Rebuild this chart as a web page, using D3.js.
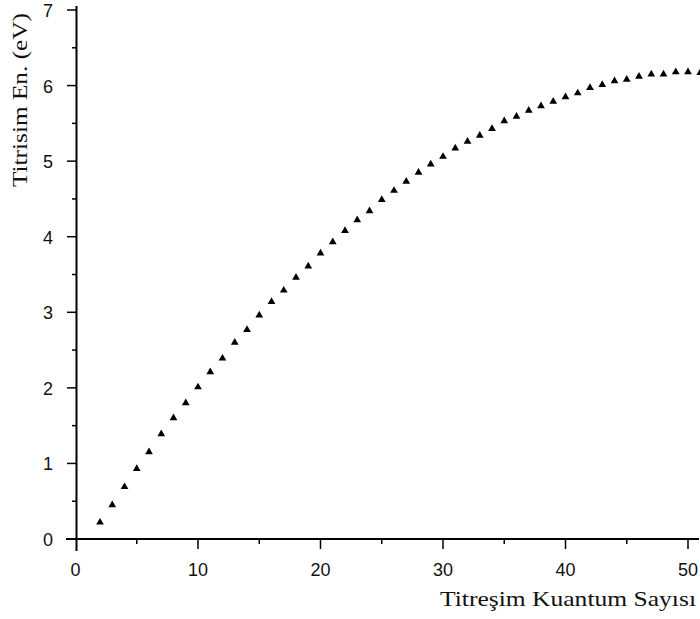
<!DOCTYPE html>
<html>
<head>
<meta charset="utf-8">
<script src="https://cdn.jsdelivr.net/npm/d3@7"></script>
<style>
  body { margin: 0; background: #fff; }
  svg { display: block; }
  .tick-label { font-family: "Liberation Sans", Arial, sans-serif; font-size: 18px; fill: #111; }
  .axis-title { font-family: "Liberation Serif", "Times New Roman", serif; font-size: 21px; fill: #111; }
</style>
</head>
<body>
<div id="chart"></div>
<script>
// quantum numbers and vibrational energies (eV)
var quantum_numbers = [2, 3, 4, 5, 6, 7, 8, 9, 10, 11, 12, 13, 14, 15, 16, 17, 18, 19, 20, 21,
                       22, 23, 24, 25, 26, 27, 28, 29, 30, 31, 32, 33, 34, 35, 36, 37, 38, 39, 40, 41,
                       42, 43, 44, 45, 46, 47, 48, 49, 50, 51];
var energies = [0.22, 0.45, 0.69, 0.93, 1.15, 1.39, 1.60, 1.80, 2.01, 2.21,
                2.39, 2.60, 2.77, 2.96, 3.14, 3.29, 3.46, 3.61, 3.78, 3.93,
                4.08, 4.22, 4.34, 4.49, 4.61, 4.73, 4.85, 4.96, 5.06, 5.17,
                5.26, 5.34, 5.43, 5.53, 5.59, 5.67, 5.73, 5.79, 5.85, 5.90,
                5.97, 6.01, 6.06, 6.08, 6.12, 6.15, 6.15, 6.18, 6.18, 6.17];
var x_ticks = [0, 10, 20, 30, 40, 50];
var y_ticks = [0, 1, 2, 3, 4, 5, 6, 7];
var x_title = "Titreşim Kuantum Sayısı";
var y_title = "Titrisim En. (eV)";

var width = 700;
var height = 619;

var x = d3.scaleLinear().domain([0, 50]).range([75.5, 688]);
var y = d3.scaleLinear().domain([0, 7]).range([539, 10]);

var svg = d3.select("#chart").append("svg")
    .attr("width", width)
    .attr("height", height);

// axis lines
svg.append("line")
    .attr("x1", 66).attr("x2", 699)
    .attr("y1", y(0)).attr("y2", y(0))
    .attr("stroke", "#000").attr("stroke-width", 2);
svg.append("line")
    .attr("x1", 76.5).attr("x2", 76.5)
    .attr("y1", 6).attr("y2", 551)
    .attr("stroke", "#000").attr("stroke-width", 2);

// x ticks (major every 10, minor every 5), pointing down
var x_minor = d3.range(5, 51, 10);
svg.append("g").selectAll("line").data(x_ticks.slice(1)).enter()
    .append("line")
    .attr("x1", function(d) { return x(d); }).attr("x2", function(d) { return x(d); })
    .attr("y1", y(0)).attr("y2", y(0) + 10)
    .attr("stroke", "#000").attr("stroke-width", 1.5);
svg.append("g").selectAll("line").data(x_minor).enter()
    .append("line")
    .attr("x1", function(d) { return x(d); }).attr("x2", function(d) { return x(d); })
    .attr("y1", y(0)).attr("y2", y(0) + 5)
    .attr("stroke", "#000").attr("stroke-width", 1.5);

// y ticks (major every 1, minor every 0.5), pointing left
var y_minor = d3.range(0.5, 7, 1);
svg.append("g").selectAll("line").data(y_ticks).enter()
    .append("line")
    .attr("x1", 67).attr("x2", 76.5)
    .attr("y1", function(d) { return y(d); }).attr("y2", function(d) { return y(d); })
    .attr("stroke", "#000").attr("stroke-width", 1.5);
svg.append("g").selectAll("line").data(y_minor).enter()
    .append("line")
    .attr("x1", 72).attr("x2", 76.5)
    .attr("y1", function(d) { return y(d); }).attr("y2", function(d) { return y(d); })
    .attr("stroke", "#000").attr("stroke-width", 1.5);

// tick labels
svg.append("g").selectAll("text").data(x_ticks).enter()
    .append("text")
    .attr("class", "tick-label")
    .attr("x", function(d) { return x(d); })
    .attr("y", 576)
    .attr("text-anchor", "middle")
    .text(function(d) { return d; });
svg.append("g").selectAll("text").data(y_ticks).enter()
    .append("text")
    .attr("class", "tick-label")
    .attr("x", 53)
    .attr("y", function(d) { return y(d) + 7; })
    .attr("text-anchor", "end")
    .text(function(d) { return d; });

// axis titles
svg.append("text")
    .attr("class", "axis-title")
    .attr("x", 440).attr("y", 606)
    .attr("textLength", 256)
    .attr("lengthAdjust", "spacingAndGlyphs")
    .text(x_title);
svg.append("text")
    .attr("class", "axis-title")
    .attr("transform", "translate(27,187) rotate(-90)")
    .attr("textLength", 174)
    .attr("lengthAdjust", "spacingAndGlyphs")
    .text(y_title);

// points
var points = quantum_numbers.map(function(n, i) { return { n: n, e: energies[i] }; });
var triangle = d3.symbol().type(d3.symbolTriangle).size(26);
svg.append("g").selectAll("path").data(points).enter()
    .append("path")
    .attr("d", triangle)
    .attr("transform", function(d) { return "translate(" + x(d.n) + "," + y(d.e) + ")"; })
    .attr("fill", "#000");
</script>
</body>
</html>
